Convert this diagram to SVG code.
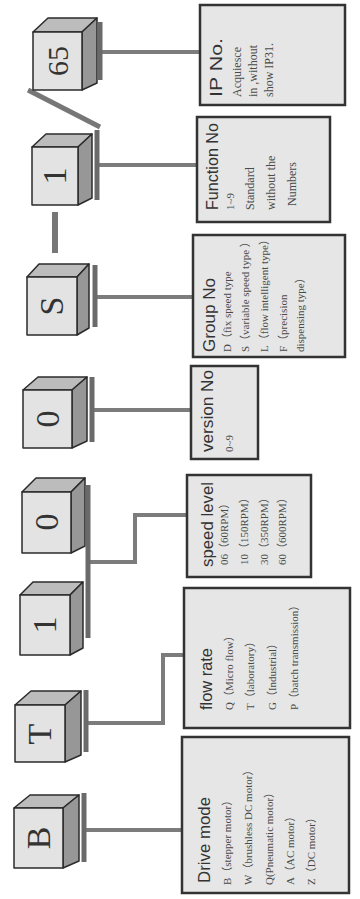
<svg xmlns="http://www.w3.org/2000/svg" width="360" height="899" viewBox="0 0 360 899">
<style>
.front{fill:#e3e3e3;stroke:#2b2b2b;stroke-width:1.5;stroke-linejoin:round}
.top{fill:#bcbcbc;stroke:#2b2b2b;stroke-width:1.5;stroke-linejoin:round}
.side{fill:#979797;stroke:#2b2b2b;stroke-width:1.5;stroke-linejoin:round}
.bar{stroke:#6a6a6a;stroke-width:5;fill:none}
.conn{stroke:#7c7c7c;stroke-width:4;fill:none}
.box{fill:#e6e6e6;stroke:#333;stroke-width:2.5}
.glyph{font-family:"Liberation Serif","Times New Roman",serif;font-size:34px;fill:#333;text-anchor:middle}
.title{font-family:"Liberation Sans",Arial,sans-serif;font-size:17px;fill:#333}
.item{font-family:"Liberation Serif","Noto Sans CJK SC",serif;font-size:11px;fill:#4a4a4a}
</style>
<rect width="360" height="899" fill="#fff"/>

<g id="connectors">
<path class="conn" d="M86,830 H182"/>
<path class="conn" d="M87,723 H163 V655 H184"/>
<path class="conn" d="M90,562 H135 V515 H187"/>
<path class="conn" d="M94,410 H191"/>
<path class="conn" d="M97,297 H193"/>
<path class="conn" d="M99,165 H197"/>
<path class="conn" d="M101,52 H200"/>
<path d="M55,212 V253" stroke="#777" stroke-width="6" fill="none"/>
<path d="M28,90 L100,127" stroke="#777" stroke-width="5" fill="none"/>
</g>

<g id="cube-B">
<polygon class="top" points="14,808 63,808 79,795 30,795"/>
<polygon class="side" points="63,808 79,795 79,861 63,868"/>
<rect class="front" x="14" y="808" width="49" height="60"/>
<text class="glyph" transform="translate(50,838) rotate(-90)">B</text>
<line class="bar" x1="84" y1="793" x2="84" y2="862"/>
</g>
<g id="cube-T">
<polygon class="top" points="15,705 65,705 81,691 31,691"/>
<polygon class="side" points="65,705 81,691 81,755 65,762"/>
<rect class="front" x="15" y="705" width="50" height="57"/>
<text class="glyph" transform="translate(51,734) rotate(-90)">T</text>
<line class="bar" x1="86" y1="690" x2="86" y2="752"/>
</g>
<g id="cube-1a">
<polygon class="top" points="20,595 70,595 83,582 33,582"/>
<polygon class="side" points="70,595 83,582 83,648 70,655"/>
<rect class="front" x="20" y="595" width="50" height="60"/>
<text class="glyph" transform="translate(56,625) rotate(-90)">1</text>
</g>
<g id="cube-0a">
<polygon class="top" points="22,492 71,492 85,478 36,478"/>
<polygon class="side" points="71,492 85,478 85,546 71,553"/>
<rect class="front" x="22" y="492" width="49" height="61"/>
<text class="glyph" transform="translate(58,522) rotate(-90)">0</text>
<line class="bar" x1="88" y1="485" x2="88" y2="638"/>
</g>
<g id="cube-0b">
<polygon class="top" points="23,390 72,390 87,377 38,377"/>
<polygon class="side" points="72,390 87,377 87,441 72,448"/>
<rect class="front" x="23" y="390" width="49" height="58"/>
<text class="glyph" transform="translate(59,419) rotate(-90)">0</text>
<line class="bar" x1="92" y1="377" x2="92" y2="442"/>
</g>
<g id="cube-S">
<polygon class="top" points="27,277 77,277 89,264 39,264"/>
<polygon class="side" points="77,277 89,264 89,328 77,335"/>
<rect class="front" x="27" y="277" width="50" height="58"/>
<text class="glyph" transform="translate(63,306) rotate(-90)">S</text>
<line class="bar" x1="95" y1="265" x2="95" y2="327"/>
</g>
<g id="cube-1b">
<polygon class="top" points="32,147 78,147 92,134 46,134"/>
<polygon class="side" points="78,147 92,134 92,198 78,205"/>
<rect class="front" x="32" y="147" width="46" height="58"/>
<text class="glyph" transform="translate(66,176) rotate(-90)">1</text>
<line class="bar" x1="97" y1="130" x2="97" y2="200"/>
</g>
<g id="cube-65">
<polygon class="top" points="33,32 82,32 97,18 48,18"/>
<polygon class="side" points="82,32 97,18 97,83 82,90"/>
<rect class="front" x="33" y="32" width="49" height="58"/>
<text class="glyph" style="font-size:30px" transform="translate(68,61) rotate(-90)">65</text>
<line class="bar" x1="100" y1="22" x2="100" y2="80"/>
</g>

<g id="box-drive">
<rect class="box" x="182" y="737" width="167" height="156"/>
<g transform="translate(210,883) rotate(-90)"><text class="title" textLength="86" lengthAdjust="spacingAndGlyphs">Drive mode</text></g>
<g transform="translate(231,885) rotate(-90)"><text class="item">B（stepper motor）</text></g>
<g transform="translate(252,885) rotate(-90)"><text class="item">W（brushless DC motor）</text></g>
<g transform="translate(273,885) rotate(-90)"><text class="item">Q(Pneumatic motor）</text></g>
<g transform="translate(294,885) rotate(-90)"><text class="item">A（AC motor）</text></g>
<g transform="translate(315,885) rotate(-90)"><text class="item">Z（DC motor）</text></g>
</g>
<g id="box-flow">
<rect class="box" x="184" y="588" width="166" height="140"/>
<g transform="translate(212,710) rotate(-90)"><text class="title" textLength="62" lengthAdjust="spacingAndGlyphs">flow rate</text></g>
<g transform="translate(233,710) rotate(-90)"><text class="item">Q（Micro flow）</text></g>
<g transform="translate(254,710) rotate(-90)"><text class="item">T（laboratory）</text></g>
<g transform="translate(276,710) rotate(-90)"><text class="item">G（Industrial）</text></g>
<g transform="translate(298,710) rotate(-90)"><text class="item">P（batch transmission）</text></g>
</g>
<g id="box-speed">
<rect class="box" x="187" y="475" width="124" height="102"/>
<g transform="translate(213,567) rotate(-90)"><text class="title" textLength="85" lengthAdjust="spacingAndGlyphs">speed level</text></g>
<g transform="translate(228,565) rotate(-90)"><text class="item">06（60RPM）</text></g>
<g transform="translate(248,565) rotate(-90)"><text class="item">10（150RPM）</text></g>
<g transform="translate(268,565) rotate(-90)"><text class="item">30（350RPM）</text></g>
<g transform="translate(286,565) rotate(-90)"><text class="item">60（600RPM）</text></g>
</g>
<g id="box-version">
<rect class="box" x="191" y="366" width="67" height="93"/>
<g transform="translate(213,452) rotate(-90)"><text class="title" textLength="82" lengthAdjust="spacingAndGlyphs">version No</text></g>
<g transform="translate(233,452) rotate(-90)"><text class="item">0~9</text></g>
</g>
<g id="box-group">
<rect class="box" x="193" y="235" width="152" height="122"/>
<g transform="translate(215,352) rotate(-90)"><text class="title" textLength="74" lengthAdjust="spacingAndGlyphs">Group No</text></g>
<g transform="translate(231,352) rotate(-90)"><text class="item">D（fix speed type</text></g>
<g transform="translate(249,352) rotate(-90)"><text class="item">S（variable speed type ）</text></g>
<g transform="translate(268,352) rotate(-90)"><text class="item">L（flow intelligent type）</text></g>
<g transform="translate(287,352) rotate(-90)"><text class="item">F（precision</text></g>
<g transform="translate(304,352) rotate(-90)"><text class="item">dispensing type）</text></g>
</g>
<g id="box-function">
<rect class="box" x="197" y="117" width="133" height="105"/>
<g transform="translate(218,210) rotate(-90)"><text class="title" textLength="87" lengthAdjust="spacingAndGlyphs">Function No</text></g>
<g transform="translate(234,210) rotate(-90)"><text class="item">1~9</text></g>
<g transform="translate(254,210) rotate(-90)"><text class="item" style="font-size:12px">Standard</text></g>
<g transform="translate(275,210) rotate(-90)"><text class="item" style="font-size:12px">without the</text></g>
<g transform="translate(296,206) rotate(-90)"><text class="item" style="font-size:12px">Numbers</text></g>
</g>
<g id="box-ip">
<rect class="box" x="200" y="5" width="145" height="100"/>
<g transform="translate(222,97) rotate(-90)"><text class="title" textLength="59" lengthAdjust="spacingAndGlyphs">IP No.</text></g>
<g transform="translate(241,97) rotate(-90)"><text class="item" style="font-size:12px">Acquiesce</text></g>
<g transform="translate(257,97) rotate(-90)"><text class="item" style="font-size:12px">in ,without</text></g>
<g transform="translate(273,97) rotate(-90)"><text class="item" style="font-size:12px">show IP31.</text></g>
</g>
</svg>
